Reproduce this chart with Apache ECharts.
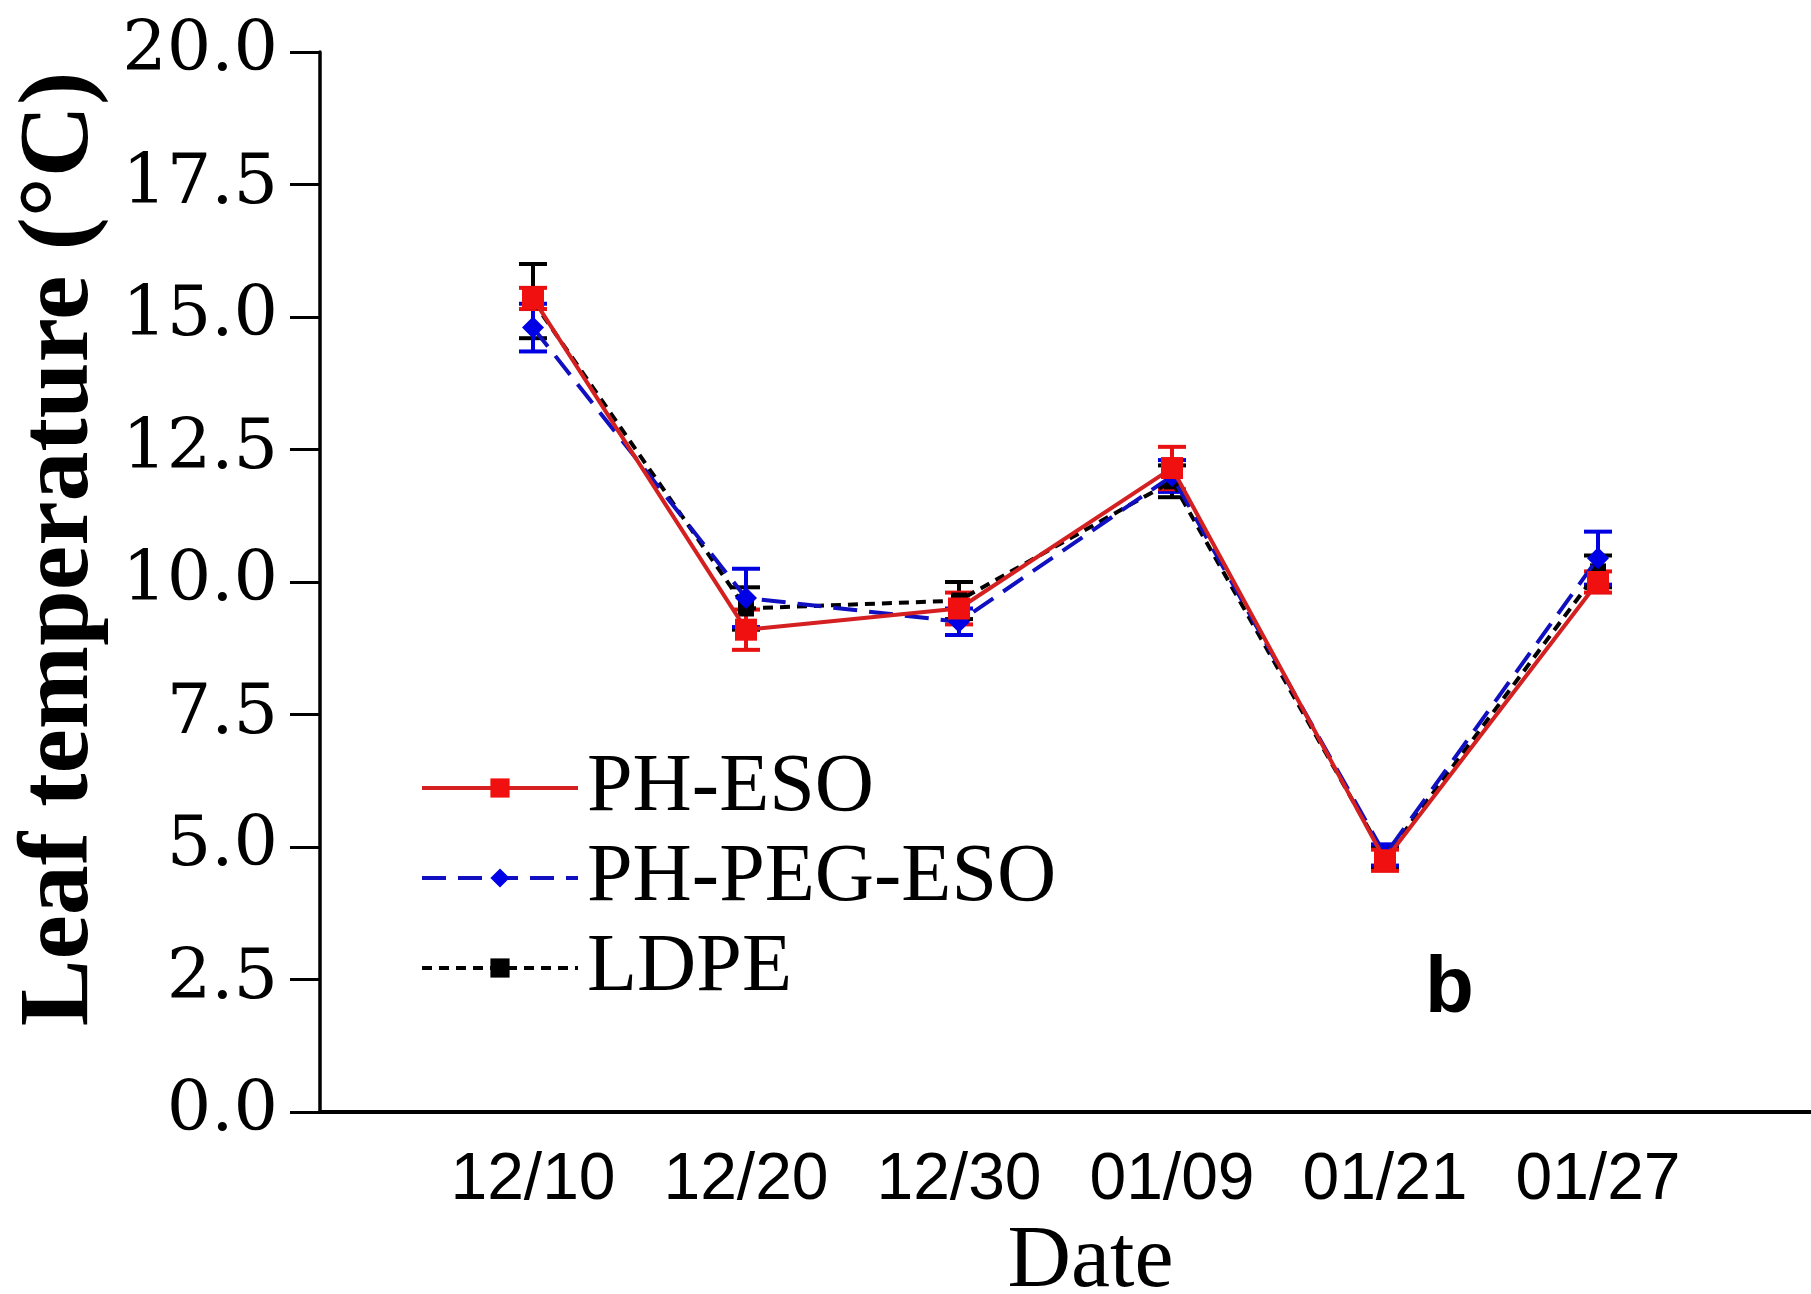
<!DOCTYPE html>
<html>
<head>
<meta charset="utf-8">
<script src="https://cdn.jsdelivr.net/npm/echarts@6/dist/echarts.min.js"></script>
<style>
  html, body { margin: 0; padding: 0; background: #fff; }
  #chart { width: 1811px; height: 1294px; }
</style>
</head>
<body>
<div id="chart"></div>
<script>
// dates on the x axis (placed at positions 1..6)
var dates = ['12/10', '12/20', '12/30', '01/09', '01/21', '01/27'];
var yTicks = ['0.0', '2.5', '5.0', '7.5', '10.0', '12.5', '15.0', '17.5', '20.0'];

// mean leaf temperature and error
var phEso = [15.35, 9.1, 9.5, 12.15, 4.75, 10.0];
var phEsoErr = [0.2, 0.38, 0.3, 0.4, 0.2, 0.2];
var phPegEso = [14.8, 9.7, 9.25, 12.0, 4.85, 10.45];
var phPegEsoErr = [0.45, 0.55, 0.25, 0.3, 0.2, 0.5];
var ldpe = [15.3, 9.5, 9.65, 11.9, 4.8, 10.2];
var ldpeErr = [0.7, 0.4, 0.35, 0.3, 0.2, 0.3];

var serif = 'Liberation Serif';
var sans = 'Liberation Sans';

function points(vals) {
    return vals.map(function (v, i) { return [i + 1, v]; });
}
function bars(vals, errs) {
    return vals.map(function (v, i) { return [i + 1, v - errs[i], v + errs[i]]; });
}
function errorSeries(vals, errs, color, z) {
    return {
        type: 'custom',
        z: z,
        silent: true,
        data: bars(vals, errs),
        renderItem: function (params, api) {
            var lo = api.coord([api.value(0), api.value(1)]);
            var hi = api.coord([api.value(0), api.value(2)]);
            var w = 14;
            var st = { stroke: color, lineWidth: 4 };
            return {
                type: 'group',
                children: [
                    { type: 'line', shape: { x1: lo[0], y1: lo[1], x2: hi[0], y2: hi[1] }, style: st },
                    { type: 'line', shape: { x1: lo[0] - w, y1: lo[1], x2: lo[0] + w, y2: lo[1] }, style: st },
                    { type: 'line', shape: { x1: hi[0] - w, y1: hi[1], x2: hi[0] + w, y2: hi[1] }, style: st }
                ]
            };
        }
    };
}

var chart = echarts.init(document.getElementById('chart'));
chart.setOption({
    backgroundColor: '#fff',
    animation: false,
    grid: { left: 320, right: 0, top: 52, bottom: 182, containLabel: false, outerBoundsMode: 'none' },
    legend: {
        orient: 'vertical',
        left: 415,
        top: 742,
        itemWidth: 156,
        itemHeight: 24,
        itemGap: 8,
        lineStyle: { width: 4 },
        textStyle: { fontFamily: serif, fontSize: 82, color: '#000', padding: [0, 0, 0, 4] },
        data: ['PH-ESO', 'PH-PEG-ESO', 'LDPE']
    },
    xAxis: {
        type: 'value',
        min: 0,
        max: 7,
        interval: 1,
        name: 'Date',
        nameLocation: 'middle',
        nameGap: 104,
        nameTextStyle: { fontFamily: serif, fontSize: 88, color: '#000', padding: [0, 0, 0, 50] },
        axisLine: { show: true, lineStyle: { color: '#000', width: 4 } },
        axisTick: { show: false },
        splitLine: { show: false },
        axisLabel: {
            margin: 36,
            fontFamily: sans,
            fontSize: 66,
            color: '#000',
            formatter: function (v) { return dates[v - 1] || ''; }
        }
    },
    yAxis: {
        type: 'value',
        min: 0,
        max: 20,
        interval: 2.5,
        name: 'Leaf temperature (°C)',
        nameLocation: 'middle',
        nameGap: 205,
        nameTextStyle: { fontFamily: serif, fontSize: 100, fontWeight: 'bold', color: '#000', padding: [0, 0, 0, 66] },
        axisLine: { show: true, lineStyle: { color: '#000', width: 3.5 } },
        axisTick: { show: true, inside: false, length: 30, lineStyle: { color: '#000', width: 3 } },
        splitLine: { show: false },
        axisLabel: {
            margin: 42,
            fontFamily: 'DejaVu Serif',
            fontSize: 70,
            color: '#000',
            formatter: function (v) { return yTicks[Math.round(v / 2.5)]; }
        }
    },
    graphic: [{
        type: 'text',
        left: 1425,
        top: 950,
        style: { text: 'b', fontFamily: sans, fontWeight: 'bold', fontSize: 80, fill: '#000' }
    }],
    series: [
        errorSeries(ldpe, ldpeErr, '#000', 2),
        errorSeries(phPegEso, phPegEsoErr, '#0000e0', 3),
        errorSeries(phEso, phEsoErr, '#e81010', 4),
        {
            name: 'LDPE',
            type: 'line',
            z: 5,
            data: points(ldpe),
            symbol: 'rect',
            symbolSize: 16,
            itemStyle: { color: '#000' },
            lineStyle: { color: '#000', width: 4, type: [10, 7] }
        },
        {
            name: 'PH-PEG-ESO',
            type: 'line',
            z: 6,
            data: points(phPegEso),
            symbol: 'diamond',
            symbolSize: 22,
            itemStyle: { color: '#0000e6' },
            lineStyle: { color: '#1010c0', width: 4, type: [24, 12] }
        },
        {
            name: 'PH-ESO',
            type: 'line',
            z: 7,
            data: points(phEso),
            symbol: 'rect',
            symbolSize: 22,
            itemStyle: { color: '#f01010' },
            lineStyle: { color: '#d42020', width: 4 }
        }
    ]
});
</script>
</body>
</html>
